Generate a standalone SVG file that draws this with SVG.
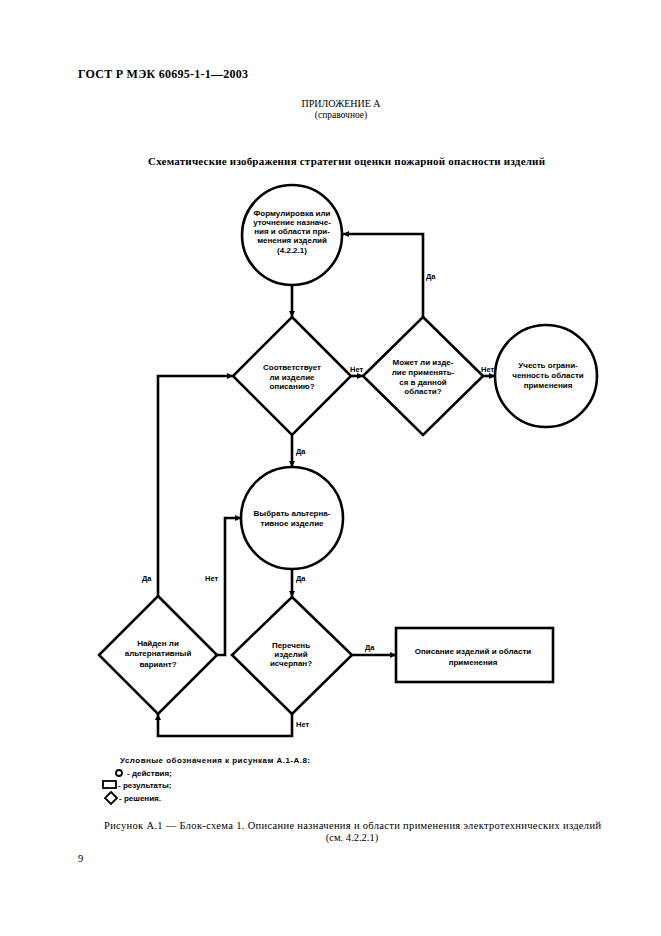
<svg xmlns="http://www.w3.org/2000/svg" width="661" height="936" viewBox="0 0 661 936">
<defs>
<marker id="arr" markerUnits="userSpaceOnUse" markerWidth="7" markerHeight="6" refX="6" refY="3" orient="auto">
<path d="M0,0 L6,3 L0,6 Z" fill="#000"/>
</marker>
<style>
.shape{fill:#fff;stroke:#000;stroke-width:2.6}
.conn{fill:none;stroke:#000;stroke-width:2.6;marker-end:url(#arr)}
.nt{font-family:"Liberation Sans",Arial,sans-serif;font-weight:bold;font-size:8px;text-anchor:middle;fill:#000}
.lbl{font-family:"Liberation Sans",Arial,sans-serif;font-weight:bold;font-size:7.5px;fill:#000}
.leg{font-family:"Liberation Sans",Arial,sans-serif;font-weight:bold;font-size:8px;fill:#000}
.serif{font-family:"Liberation Serif","Times New Roman",serif;fill:#000}
</style>
</defs>
<rect width="661" height="936" fill="#fff"/>

<g id="header">
<text class="serif" x="78" y="78" font-size="12" font-weight="bold" textLength="170">ГОСТ Р МЭК 60695-1-1—2003</text>
<text class="serif" x="341" y="107" font-size="10" text-anchor="middle">ПРИЛОЖЕНИЕ А</text>
<text class="serif" x="341" y="118" font-size="9.5" text-anchor="middle">(справочное)</text>
<text class="serif" x="148" y="165" font-size="11" font-weight="bold" textLength="397">Схематические изображения стратегии оценки пожарной опасности изделий</text>
</g>

<g id="connectors">
<path class="conn" d="M292,285 L292,317"/>
<path class="conn" d="M351,376 L363,376"/>
<path class="conn" d="M423,317 L423,234 L343,234"/>
<path class="conn" d="M483,376 L495,376"/>
<path class="conn" d="M292,435 L292,467"/>
<path class="conn" d="M292,569 L292,597"/>
<path class="conn" d="M352,655 L396,655"/>
<path class="conn" d="M292,714 L292,736 L158,736 L158,714"/>
<path class="conn" d="M217,655 L225,655 L225,518 L241,518"/>
<path class="conn" d="M158,596 L158,376 L233,376"/>
</g>

<g id="labels">
<text class="lbl" x="350" y="372">Нет</text>
<text class="lbl" x="426" y="279">Да</text>
<text class="lbl" x="481" y="372">Нет</text>
<text class="lbl" x="296" y="454">Да</text>
<text class="lbl" x="142" y="581">Да</text>
<text class="lbl" x="205" y="581">Нет</text>
<text class="lbl" x="296" y="581">Да</text>
<text class="lbl" x="365" y="650">Да</text>
<text class="lbl" x="296" y="727">Нет</text>
</g>

<g id="n1">
<circle class="shape" cx="292" cy="235" r="50"/>
<text class="nt" x="292" y="216">Формулировка или</text>
<text class="nt" x="292" y="225">уточнение назначе-</text>
<text class="nt" x="292" y="234">ния и области при-</text>
<text class="nt" x="292" y="243">менения изделий</text>
<text class="nt" x="292" y="253">(4.2.2.1)</text>
</g>

<g id="d1">
<path class="shape" d="M292,317 L351,376 L292,435 L233,376 Z"/>
<text class="nt" x="292" y="370">Соответствует</text>
<text class="nt" x="292" y="380">ли изделие</text>
<text class="nt" x="292" y="389">описанию?</text>
</g>

<g id="d2">
<path class="shape" d="M423,317 L483,376 L423,435 L363,376 Z"/>
<text class="nt" x="423" y="365">Может ли изде-</text>
<text class="nt" x="423" y="375">лие применять-</text>
<text class="nt" x="423" y="385">ся в данной</text>
<text class="nt" x="423" y="394">области?</text>
</g>

<g id="n2">
<circle class="shape" cx="546" cy="376" r="51"/>
<text class="nt" x="548" y="368">Учесть ограни-</text>
<text class="nt" x="548" y="378">ченность области</text>
<text class="nt" x="548" y="388">применения</text>
</g>

<g id="n3">
<circle class="shape" cx="292" cy="518" r="51"/>
<text class="nt" x="292" y="516">Выбрать альтерна-</text>
<text class="nt" x="292" y="526">тивное изделие</text>
</g>

<g id="d3">
<path class="shape" d="M292,597 L352,655 L292,714 L232,655 Z"/>
<text class="nt" x="291" y="648">Перечень</text>
<text class="nt" x="291" y="657">изделий</text>
<text class="nt" x="291" y="666">исчерпан?</text>
</g>

<g id="d4">
<path class="shape" d="M158,596 L217,655 L158,714 L99,655 Z"/>
<text class="nt" x="158" y="646">Найден ли</text>
<text class="nt" x="158" y="656">альтернативный</text>
<text class="nt" x="158" y="667">вариант?</text>
</g>

<g id="r1">
<rect class="shape" x="396" y="628" width="157" height="54"/>
<text class="nt" x="473" y="654">Описание изделий и области</text>
<text class="nt" x="473" y="665">применения</text>
</g>

<g id="legend">
<text class="leg" x="120" y="763" textLength="190">Условные обозначения к рисункам А.1-А.8:</text>
<circle cx="119" cy="773" r="3" fill="none" stroke="#000" stroke-width="1.8"/>
<text class="leg" x="127" y="776">- действия;</text>
<rect x="103" y="781" width="13" height="7" fill="none" stroke="#000" stroke-width="1.8"/>
<text class="leg" x="118" y="788">- результаты;</text>
<path d="M111,792 L117,798 L111,804 L105,798 Z" fill="none" stroke="#000" stroke-width="1.8"/>
<text class="leg" x="119" y="801">- решения.</text>
</g>

<g id="caption">
<text class="serif" x="104" y="829" font-size="10.5" textLength="497">Рисунок А.1 — Блок-схема 1. Описание назначения и области применения электротехнических изделий</text>
<text class="serif" x="352" y="841" font-size="10.5" text-anchor="middle">(см. 4.2.2.1)</text>
<text class="serif" x="78" y="862" font-size="10.5">9</text>
</g>
</svg>
